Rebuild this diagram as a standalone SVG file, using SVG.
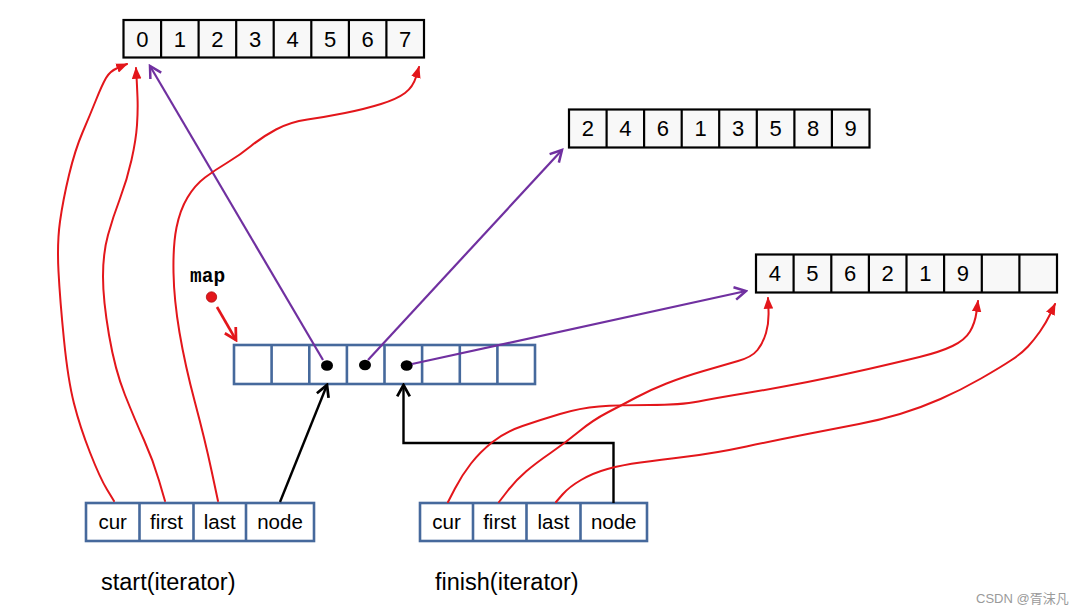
<svg xmlns="http://www.w3.org/2000/svg" width="1091" height="614" viewBox="0 0 1091 614">
<style>
.arr{fill:#f8f8f8;stroke:#000;stroke-width:2.2}
.cellb{fill:#fff;stroke:#46699c;stroke-width:2.6}
.num{font-family:"Liberation Sans",Arial,sans-serif;font-size:22px;fill:#000;text-anchor:middle}
.lbl{font-family:"Liberation Sans",Arial,sans-serif;font-size:20.5px;fill:#000;text-anchor:middle}
.cap{font-family:"Liberation Sans",Arial,sans-serif;font-size:23.5px;fill:#000}
.red{fill:none;stroke:#e3161b;stroke-width:2;stroke-linejoin:round;stroke-linecap:round;marker-end:url(#rh)}
.pur{fill:none;stroke:#7030a0;stroke-width:2.2;marker-end:url(#ph)}
.blk{fill:none;stroke:#000;stroke-width:2.4;marker-end:url(#bh)}
</style>
<defs>
<marker id="rh" markerUnits="userSpaceOnUse" markerWidth="12" markerHeight="10" viewBox="0 0 10 8" refX="9" refY="4" orient="auto"><path d="M0,0 L10,4 L0,8 z" fill="#e3161b"/></marker>
<marker id="ph" markerUnits="userSpaceOnUse" markerWidth="16" markerHeight="16" viewBox="0 0 14 14" refX="12" refY="7" orient="auto"><path d="M2,1.5 L12,7 L2,12.5" fill="none" stroke="#7030a0" stroke-width="2.2"/></marker>
<marker id="bh" markerUnits="userSpaceOnUse" markerWidth="16" markerHeight="16" viewBox="0 0 14 14" refX="12" refY="7" orient="auto"><path d="M2,1.5 L12,7 L2,12.5" fill="none" stroke="#000" stroke-width="2.4"/></marker>
<marker id="rmh" markerUnits="userSpaceOnUse" markerWidth="16" markerHeight="16" viewBox="0 0 14 14" refX="12" refY="7" orient="auto"><path d="M2,1.5 L12,7 L2,12.5" fill="none" stroke="#e3161b" stroke-width="2.4"/></marker>
</defs>
<rect width="1091" height="614" fill="#fff"/>

<g id="array0">
<rect class="arr" x="123.5" y="20" width="300.5" height="37.5"/>
<path d="M161.1,20V57.5M198.6,20V57.5M236.2,20V57.5M273.7,20V57.5M311.3,20V57.5M348.9,20V57.5M386.4,20V57.5" stroke="#000" stroke-width="2.2"/>
<text class="num" y="46.7"><tspan x="142.3">0</tspan><tspan x="179.9">1</tspan><tspan x="217.4">2</tspan><tspan x="255">3</tspan><tspan x="292.5">4</tspan><tspan x="330.1">5</tspan><tspan x="367.6">6</tspan><tspan x="405.2">7</tspan></text>
</g>

<g id="array1">
<rect class="arr" x="569" y="109.5" width="300.5" height="38"/>
<path d="M606.6,109.5V147.5M644.1,109.5V147.5M681.7,109.5V147.5M719.2,109.5V147.5M756.8,109.5V147.5M794.4,109.5V147.5M831.9,109.5V147.5" stroke="#000" stroke-width="2.2"/>
<text class="num" y="136.4"><tspan x="587.8">2</tspan><tspan x="625.4">4</tspan><tspan x="662.9">6</tspan><tspan x="700.5">1</tspan><tspan x="738">3</tspan><tspan x="775.6">5</tspan><tspan x="813.1">8</tspan><tspan x="850.7">9</tspan></text>
</g>

<g id="array2">
<rect class="arr" x="756" y="254.5" width="301" height="38"/>
<path d="M793.6,254.5V292.5M831.3,254.5V292.5M868.9,254.5V292.5M906.5,254.5V292.5M944.1,254.5V292.5M981.8,254.5V292.5M1019.4,254.5V292.5" stroke="#000" stroke-width="2.2"/>
<text class="num" y="281.4"><tspan x="774.8">4</tspan><tspan x="812.4">5</tspan><tspan x="850.1">6</tspan><tspan x="887.7">2</tspan><tspan x="925.3">1</tspan><tspan x="962.9">9</tspan></text>
</g>

<g id="map">
<text x="190" y="282" font-family="Liberation Mono,Courier New,monospace" font-weight="bold" font-size="19.5" fill="#000">map</text>
<circle cx="211.5" cy="297" r="5.2" fill="#e3161b" stroke="#b01010" stroke-width="0.8"/>
<path d="M217,307 L236,340" fill="none" stroke="#e3161b" stroke-width="2.6" marker-end="url(#rmh)"/>
<rect class="cellb" x="234" y="345" width="301" height="39"/>
<path d="M271.6,345V384M309.3,345V384M346.9,345V384M384.5,345V384M422.1,345V384M459.8,345V384M497.4,345V384" stroke="#46699c" stroke-width="2.6"/>
<ellipse cx="327" cy="365.5" rx="6" ry="5.3" fill="#000"/>
<ellipse cx="365" cy="365" rx="6" ry="5.3" fill="#000"/>
<ellipse cx="406.7" cy="365.5" rx="6" ry="5.3" fill="#000"/>
</g>

<g id="start">
<rect class="cellb" x="86" y="503" width="228" height="38"/>
<path d="M139.5,503V541M193.5,503V541M246,503V541" stroke="#46699c" stroke-width="2.6"/>
<text class="lbl" y="529"><tspan x="112.7">cur</tspan><tspan x="166.5">first</tspan><tspan x="219.7">last</tspan><tspan x="280">node</tspan></text>
<text class="cap" x="101" y="590">start(iterator)</text>
</g>

<g id="finish">
<rect class="cellb" x="420" y="503" width="227" height="38"/>
<path d="M473,503V541M526.5,503V541M580.5,503V541" stroke="#46699c" stroke-width="2.6"/>
<text class="lbl" y="529"><tspan x="446.5">cur</tspan><tspan x="499.7">first</tspan><tspan x="553.5">last</tspan><tspan x="613.7">node</tspan></text>
<text class="cap" x="435" y="590">finish(iterator)</text>
</g>

<g id="connectors">
<path class="pur" d="M323,360 L150,66"/>
<path class="pur" d="M368,360 L562,150"/>
<path class="pur" d="M412,364 L746,291"/>
<path class="blk" d="M280,502 L327,385"/>
<path class="blk" d="M613.5,503 V443 H403.5 V385"/>
<path class="red" d="M114,501 L107,489.5 Q100,478 90,452.5 Q80,427 74,403.5 Q68,380 64,340 Q60,300 58.5,271.5 Q57,243 60,221.5 Q63,200 69,175 Q75,150 82.5,132.5 Q90,115 96,100 Q102,85 106,78 Q110,71 118.5,67.5 L127,64"/>
<path class="red" d="M165,501 L159,480.5 Q153,460 144,440 Q135,420 125,395 Q115,370 109,335 Q103,300 103,276.5 Q103,253 108,235 Q113,217 120,198.5 Q127,180 131.5,160 Q136,140 137,125 Q138,110 137.5,97.5 Q137,85 136.5,76.5 L136,68"/>
<path class="red" d="M218,501 L211.5,470.5 Q205,440 195,402.5 Q185,365 179.5,332.5 Q174,300 173.5,272.5 Q173,245 176.5,227.5 Q180,210 187.5,197.5 Q195,185 205,177.5 Q215,170 227.5,162.5 Q240,155 251,146 Q262,137 276,129.5 Q290,122 307.5,119.5 Q325,117 345,113 Q365,109 381,104 Q397,99 405,93 Q413,87 416,77 L419,67"/>
<path class="red" d="M448,502 L455,488.5 Q462,475 471,463.5 Q480,452 492.5,442 Q505,432 522.5,426 Q540,420 560,414 Q580,408 599,406.5 Q618,405 649.5,405 Q681,405 698.5,401.5 Q716,398 746.5,393 Q777,388 807.5,382 Q838,376 868.5,369 Q899,362 919.5,357 Q940,352 952.5,346 Q965,340 970,331.5 Q975,323 976.5,312 L978,301"/>
<path class="red" d="M499,502 L507.5,491 Q516,480 526,471.5 Q536,463 550.5,453 Q565,443 579,431.5 Q593,420 607.5,412.5 Q622,405 636,397.5 Q650,390 666.5,383.5 Q683,377 703.5,371 Q724,365 738,361 Q752,357 757.5,350 Q763,343 766,333 Q769,323 768.5,310.5 L768,298"/>
<path class="red" d="M556,502 L562.5,494.5 Q569,487 581,480 Q593,473 607.5,469 Q622,465 640.5,462.5 Q659,460 687.5,456.5 Q716,453 746.5,446.5 Q777,440 807.5,434 Q838,428 859,424 Q880,420 900,414 Q920,408 940.5,399 Q961,390 981,378.5 Q1001,367 1011.5,360 Q1022,353 1028,346.5 Q1034,340 1040,331.5 Q1046,323 1050.5,313.5 L1055,304"/>
</g>

<text x="976" y="603" font-family="Liberation Sans,Noto Sans CJK SC,sans-serif" font-size="13" fill="#9a9a9a">CSDN @胥沫凡</text>
</svg>
